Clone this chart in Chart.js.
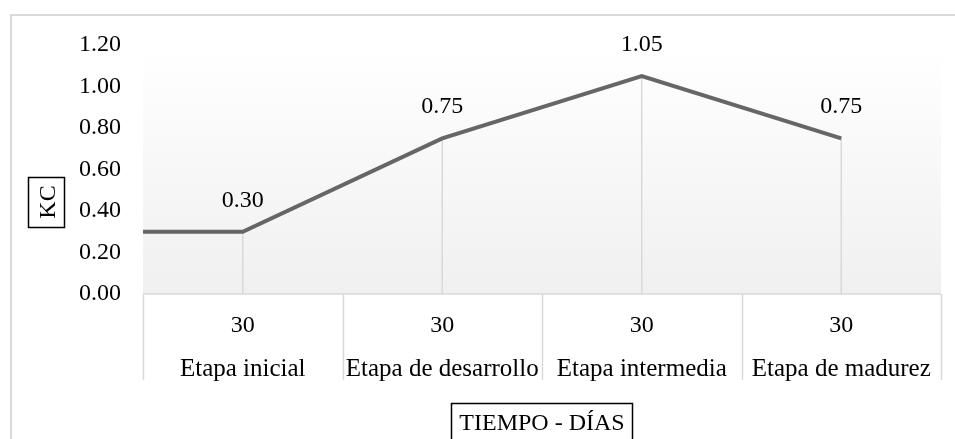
<!DOCTYPE html>
<html>
<head>
<meta charset="utf-8">
<script src="https://cdn.jsdelivr.net/npm/chart.js@4.4.1/dist/chart.umd.min.js"></script>
<style>
  html, body { margin: 0; padding: 0; background: #fff; }
  #wrap { width: 955px; height: 439px; }
</style>
</head>
<body>
<div id="wrap"><canvas id="myChart" width="955" height="439"></canvas></div>
<script>
// datos
var etapas = ["Etapa inicial", "Etapa de desarrollo", "Etapa intermedia", "Etapa de madurez"];
var dias = [30, 30, 30, 30];
var kc = [0.30, 0.75, 1.05, 0.75];
var yMin = 0, yMax = 1.2, yStep = 0.2;

var fuente = "'Liberation Serif', 'Times New Roman', serif";

// la linea arranca en el borde izquierdo con el primer valor
var puntos = [{ x: 0, y: kc[0] }];
kc.forEach(function (v, i) { puntos.push({ x: i + 0.5, y: v }); });

var decorado = {
  id: "decorado",
  beforeDatasetsDraw: function (chart) {
    var ctx = chart.ctx, a = chart.chartArea;
    var g = ctx.createLinearGradient(0, a.top, 0, a.bottom);
    g.addColorStop(0, "#ffffff");
    g.addColorStop(1, "#f0f0f0");
    ctx.save();
    ctx.fillStyle = g;
    ctx.fillRect(a.left, a.top, a.right - a.left, a.bottom - a.top);
    // lineas de caida
    var meta = chart.getDatasetMeta(0);
    ctx.strokeStyle = "#d9d9d9";
    ctx.lineWidth = 1.5;
    meta.data.forEach(function (p, i) {
      if (i === 0) return;
      ctx.beginPath();
      ctx.moveTo(p.x, p.y);
      ctx.lineTo(p.x, a.bottom);
      ctx.stroke();
    });
    ctx.restore();
  },
  afterDraw: function (chart) {
    var ctx = chart.ctx, a = chart.chartArea;
    var xs = chart.scales.x;
    ctx.save();
    // tabla del eje de categorias
    ctx.strokeStyle = "#d9d9d9";
    ctx.lineWidth = 1.5;
    ctx.beginPath();
    ctx.moveTo(a.left, a.bottom);
    ctx.lineTo(a.right, a.bottom);
    for (var i = 0; i <= etapas.length; i++) {
      var x = Math.round(xs.getPixelForValue(i)) + 0.5;
      ctx.moveTo(x, a.bottom);
      ctx.lineTo(x, a.bottom + 86);
    }
    ctx.stroke();

    ctx.fillStyle = "#000";
    ctx.textAlign = "center";
    ctx.textBaseline = "alphabetic";
    etapas.forEach(function (e, i) {
      var cx = xs.getPixelForValue(i + 0.5);
      ctx.font = "24px " + fuente;
      ctx.fillText(String(dias[i]), cx, a.bottom + 38);
      ctx.font = "25px " + fuente;
      ctx.fillText(e, cx, a.bottom + 82);
    });

    // etiquetas de datos
    ctx.font = "24px " + fuente;
    var meta = chart.getDatasetMeta(0);
    meta.data.forEach(function (p, i) {
      if (i === 0) return;
      ctx.fillText(kc[i - 1].toFixed(2), p.x, p.y - 25);
    });

    // titulo eje y
    ctx.strokeStyle = "#000";
    ctx.lineWidth = 1.5;
    ctx.strokeRect(28.5, 177.5, 36, 50);
    ctx.save();
    ctx.translate(55, 202);
    ctx.rotate(-Math.PI / 2);
    ctx.fillText("KC", 0, 0);
    ctx.restore();

    // titulo eje x
    ctx.strokeRect(451.5, 403.5, 181, 40);
    ctx.fillText("TIEMPO - DÍAS", 542, 430);

    // borde exterior
    ctx.strokeStyle = "#d9d9d9";
    ctx.lineWidth = 2;
    ctx.strokeRect(11, 15, 960, 440);
    ctx.restore();
  }
};

var chart = new Chart(document.getElementById("myChart"), {
  type: "line",
  data: {
    datasets: [{
      data: puntos,
      borderColor: "#666666",
      borderWidth: 4,
      pointRadius: 0,
      fill: false,
      tension: 0
    }]
  },
  options: {
    responsive: false,
    animation: false,
    events: [],
    layout: { padding: { left: 0, right: 14, top: 45, bottom: 145 } },
    plugins: { legend: { display: false }, tooltip: { enabled: false } },
    scales: {
      x: {
        type: "linear",
        min: 0,
        max: etapas.length,
        display: false
      },
      y: {
        min: yMin,
        max: yMax,
        grid: { display: false, drawTicks: false },
        border: { display: false },
        afterFit: function (s) { s.width = 143; },
        ticks: {
          stepSize: yStep,
          padding: 22,
          color: "#000",
          font: { family: fuente, size: 24 },
          callback: function (v) { return Number(v).toFixed(2); }
        }
      }
    }
  },
  plugins: [decorado]
});
</script>
</body>
</html>
